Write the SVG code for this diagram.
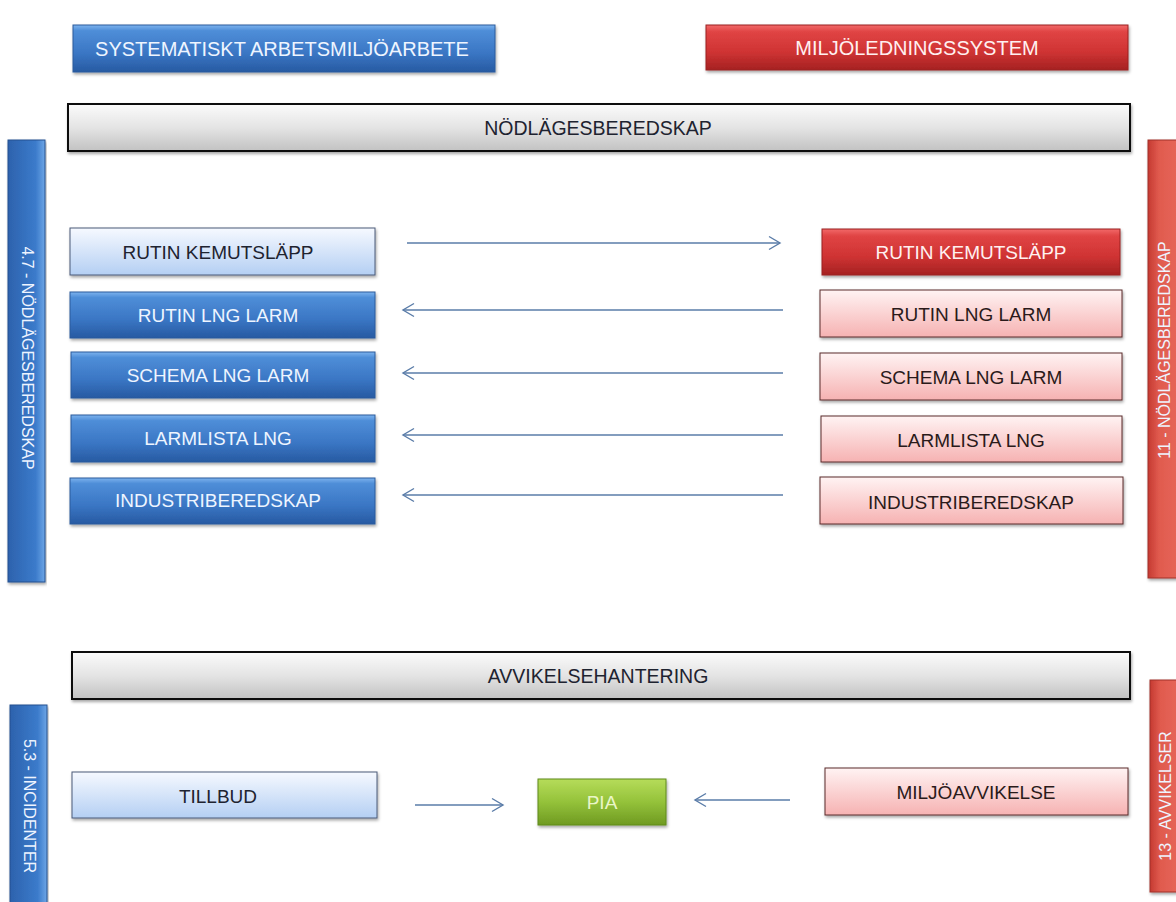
<svg xmlns="http://www.w3.org/2000/svg" width="1176" height="902" viewBox="0 0 1176 902">
  <defs>
    <linearGradient id="gBlue" x1="0" y1="0" x2="0" y2="1">
      <stop offset="0" stop-color="#7db3ee"/>
      <stop offset="0.12" stop-color="#4f8ed8"/>
      <stop offset="0.6" stop-color="#3a76c4"/>
      <stop offset="1" stop-color="#275aa2"/>
    </linearGradient>
    <linearGradient id="gLight" x1="0" y1="0" x2="0" y2="1">
      <stop offset="0" stop-color="#f6f9ff"/>
      <stop offset="1" stop-color="#b4cff3"/>
    </linearGradient>
    <linearGradient id="gRed" x1="0" y1="0" x2="0" y2="1">
      <stop offset="0" stop-color="#f26a6a"/>
      <stop offset="0.15" stop-color="#e04444"/>
      <stop offset="0.6" stop-color="#cf3333"/>
      <stop offset="1" stop-color="#a52222"/>
    </linearGradient>
    <linearGradient id="gPink" x1="0" y1="0" x2="0" y2="1">
      <stop offset="0" stop-color="#fff3f3"/>
      <stop offset="1" stop-color="#f6b2b2"/>
    </linearGradient>
    <linearGradient id="gGray" x1="0" y1="0" x2="0" y2="1">
      <stop offset="0" stop-color="#fbfbfb"/>
      <stop offset="0.5" stop-color="#e4e4e4"/>
      <stop offset="1" stop-color="#c2c2c2"/>
    </linearGradient>
    <linearGradient id="gGreen" x1="0" y1="0" x2="0" y2="1">
      <stop offset="0" stop-color="#b6dc5a"/>
      <stop offset="0.5" stop-color="#94c23a"/>
      <stop offset="1" stop-color="#6f9a22"/>
    </linearGradient>
    <linearGradient id="gBlueBar" x1="0" y1="0" x2="1" y2="0">
      <stop offset="0" stop-color="#2d62ad"/>
      <stop offset="0.75" stop-color="#3b7bcb"/>
      <stop offset="1" stop-color="#6ea6e6"/>
    </linearGradient>
    <linearGradient id="gRedBar" x1="0" y1="0" x2="1" y2="0">
      <stop offset="0" stop-color="#c53a32"/>
      <stop offset="0.3" stop-color="#e05a4e"/>
      <stop offset="1" stop-color="#e86a5c"/>
    </linearGradient>
    <filter id="shadow" x="-5%" y="-20%" width="110%" height="150%">
      <feDropShadow dx="1" dy="2" stdDeviation="1.5" flood-color="#000" flood-opacity="0.35"/>
    </filter>
    <marker id="head" viewBox="0 0 16 16" refX="14" refY="8" markerWidth="16" markerHeight="16" markerUnits="userSpaceOnUse" orient="auto-start-reverse">
      <path d="M3,1.5 L14,8 L3,14.5" fill="none" stroke="#5a7ca8" stroke-width="1.4"/>
    </marker>
  </defs>
  <style>
    text { font-family: "Liberation Sans", Arial, sans-serif; text-anchor: middle; dominant-baseline: central; }
    .lbl { font-size: 19px; }
    .head { font-size: 20px; }
    .bar { font-size: 19.5px; }
    .side { font-size: 16px; fill: #eef4ff; }
    .onDark { fill: #eef5ff; }
    .onRed { fill: #fff0f0; }
    .onLight { fill: #1e2330; }
    .onPink { fill: #2a1a1a; }
    .blue { fill: url(#gBlue); stroke: #2a5a9c; stroke-width: 1; filter: url(#shadow); }
    .light { fill: url(#gLight); stroke: #4a5a78; stroke-width: 1; filter: url(#shadow); }
    .red { fill: url(#gRed); stroke: #9a2020; stroke-width: 1; filter: url(#shadow); }
    .pink { fill: url(#gPink); stroke: #5a2a2a; stroke-width: 1; filter: url(#shadow); }
    .gray { fill: url(#gGray); stroke: #111; stroke-width: 2; filter: url(#shadow); }
    .green { fill: url(#gGreen); stroke: #5f8a1c; stroke-width: 1; filter: url(#shadow); }
    .bbar { fill: url(#gBlueBar); stroke: #24508f; stroke-width: 1; filter: url(#shadow); }
    .rbar { fill: url(#gRedBar); stroke: #a03028; stroke-width: 1; filter: url(#shadow); }
    .conn { stroke: #5a7ca8; stroke-width: 1.3; fill: none; marker-end: url(#head); }
  </style>

  <rect width="1176" height="902" fill="#ffffff"/>

  <!-- headers -->
  <g id="sam">
    <rect class="blue" x="73" y="25" width="422" height="47"/>
    <text class="head onDark" x="282" y="49">SYSTEMATISKT ARBETSMILJÖARBETE</text>
  </g>
  <g id="mls">
    <rect class="red" x="706" y="25" width="422" height="45"/>
    <text class="head onRed" x="917" y="48">MILJÖLEDNINGSSYSTEM</text>
  </g>

  <!-- section bars -->
  <g id="nodlage-bar">
    <rect class="gray" x="68" y="104" width="1062" height="47"/>
    <text class="bar onLight" x="598" y="128">NÖDLÄGESBEREDSKAP</text>
  </g>
  <g id="avvikelse-bar">
    <rect class="gray" x="72" y="652" width="1058" height="47"/>
    <text class="bar onLight" x="598" y="676">AVVIKELSEHANTERING</text>
  </g>

  <!-- side labels -->
  <g id="side-47">
    <rect class="bbar" x="8" y="140" width="37" height="442"/>
    <text class="side" transform="translate(27 358) rotate(90)">4.7 - NÖDLÄGESBEREDSKAP</text>
  </g>
  <g id="side-11">
    <rect class="rbar" x="1148" y="140" width="36" height="438"/>
    <text class="side" transform="translate(1164 350) rotate(-90)">11 - NÖDLÄGESBEREDSKAP</text>
  </g>
  <g id="side-53">
    <rect class="bbar" x="10" y="705" width="37" height="210"/>
    <text class="side" transform="translate(29 806) rotate(90)">5.3 - INCIDENTER</text>
  </g>
  <g id="side-13">
    <rect class="rbar" x="1150" y="680" width="34" height="212"/>
    <text class="side" transform="translate(1165 796) rotate(-90)">13 - AVVIKELSER</text>
  </g>

  <!-- left column -->
  <g id="l-kemutslapp">
    <rect class="light" x="70" y="228" width="305" height="47"/>
    <text class="lbl onLight" x="218" y="252">RUTIN KEMUTSLÄPP</text>
  </g>
  <g id="l-rutin-lng">
    <rect class="blue" x="70" y="292" width="305" height="46"/>
    <text class="lbl onDark" x="218" y="315">RUTIN LNG LARM</text>
  </g>
  <g id="l-schema">
    <rect class="blue" x="71" y="352" width="304" height="46"/>
    <text class="lbl onDark" x="218" y="375">SCHEMA LNG LARM</text>
  </g>
  <g id="l-larmlista">
    <rect class="blue" x="71" y="415" width="304" height="47"/>
    <text class="lbl onDark" x="218" y="438">LARMLISTA LNG</text>
  </g>
  <g id="l-industri">
    <rect class="blue" x="70" y="478" width="305" height="46"/>
    <text class="lbl onDark" x="218" y="500">INDUSTRIBEREDSKAP</text>
  </g>

  <!-- right column -->
  <g id="r-kemutslapp">
    <rect class="red" x="822" y="229" width="298" height="46"/>
    <text class="lbl onRed" x="971" y="252">RUTIN KEMUTSLÄPP</text>
  </g>
  <g id="r-rutin-lng">
    <rect class="pink" x="820" y="290" width="302" height="47"/>
    <text class="lbl onPink" x="971" y="314">RUTIN LNG LARM</text>
  </g>
  <g id="r-schema">
    <rect class="pink" x="820" y="353" width="302" height="47"/>
    <text class="lbl onPink" x="971" y="377">SCHEMA LNG LARM</text>
  </g>
  <g id="r-larmlista">
    <rect class="pink" x="821" y="416" width="301" height="46"/>
    <text class="lbl onPink" x="971" y="440">LARMLISTA LNG</text>
  </g>
  <g id="r-industri">
    <rect class="pink" x="820" y="477" width="303" height="47"/>
    <text class="lbl onPink" x="971" y="502">INDUSTRIBEREDSKAP</text>
  </g>

  <!-- deviation row -->
  <g id="tillbud">
    <rect class="light" x="72" y="772" width="305" height="46"/>
    <text class="lbl onLight" x="218" y="796">TILLBUD</text>
  </g>
  <g id="pia">
    <rect class="green" x="538" y="779" width="128" height="46"/>
    <text class="lbl" fill="#eaf6c8" x="602" y="802">PIA</text>
  </g>
  <g id="miljoavvikelse">
    <rect class="pink" x="825" y="768" width="303" height="47"/>
    <text class="lbl onPink" x="976" y="792">MILJÖAVVIKELSE</text>
  </g>

  <!-- connectors -->
  <g id="connectors">
    <line class="conn" x1="407" y1="243" x2="780" y2="243"/>
    <line class="conn" x1="783" y1="310" x2="403" y2="310"/>
    <line class="conn" x1="783" y1="373" x2="403" y2="373"/>
    <line class="conn" x1="783" y1="435" x2="403" y2="435"/>
    <line class="conn" x1="783" y1="495" x2="403" y2="495"/>
    <line class="conn" x1="415" y1="805" x2="503" y2="805"/>
    <line class="conn" x1="790" y1="800" x2="695" y2="800"/>
  </g>
</svg>
